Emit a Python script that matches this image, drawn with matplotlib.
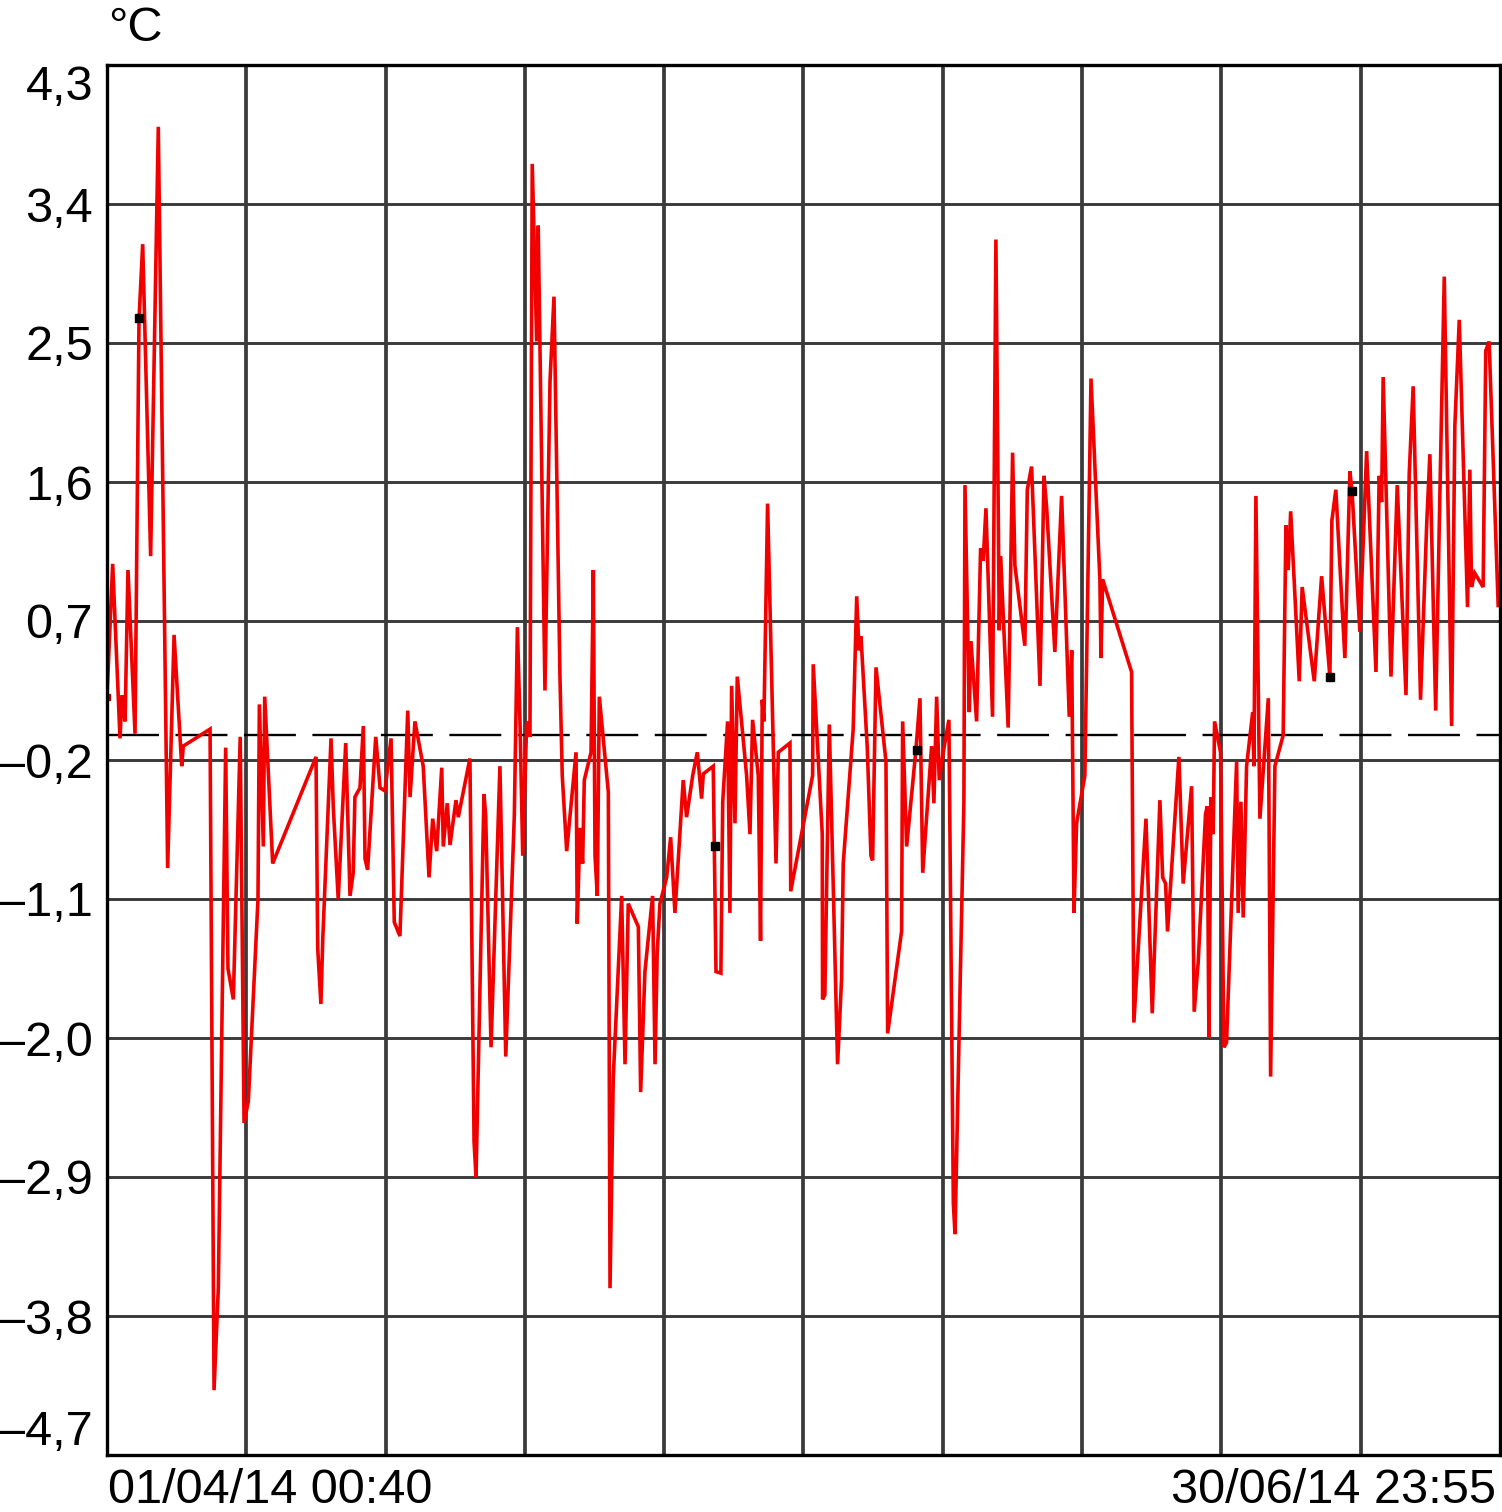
import matplotlib
matplotlib.use("Agg")
import matplotlib.pyplot as plt

# time in days since 01/04/14 00:40, temperature in °C
days = [0.00, 0.37, 0.85, 0.98, 1.18, 1.37, 1.83, 2.09, 2.33, 2.85, 3.35, 3.96, 4.38, 4.88, 4.98,
        6.73, 6.99, 7.27, 7.75, 7.90, 8.25, 8.70, 8.95, 9.23, 9.86, 9.95, 10.21, 10.30, 10.82,
        13.65, 13.76, 13.97, 14.09, 14.63, 14.78, 15.10, 15.59, 15.87, 16.08, 16.19, 16.52, 16.74,
        16.85, 17.02, 17.55, 17.83, 18.15, 18.55, 18.76, 19.13, 19.64, 19.79, 20.11, 20.65, 21.03,
        21.27, 21.53, 21.86, 21.96, 22.22, 22.40, 22.79, 22.94, 23.70, 23.97, 24.10, 24.62, 24.73,
        25.08, 25.66, 26.04, 26.60, 26.80, 26.97, 27.15, 27.41, 27.62, 27.77, 28.06, 28.16, 28.60,
        28.93, 29.19, 29.58, 29.73, 30.02, 30.63, 30.71, 30.89, 31.06, 31.17, 31.61, 31.76, 31.87,
        32.02, 32.15, 32.74, 32.85, 33.06, 33.61, 33.83, 34.04, 34.70, 34.85, 35.13, 35.63, 35.79,
        35.93, 36.11, 36.55, 36.81, 37.09, 37.63, 37.85, 38.25, 38.55, 38.83, 38.94, 39.59, 39.77,
        40.09, 40.21, 40.53, 40.68, 40.79, 41.01, 41.16, 41.77, 41.99, 42.16, 42.53, 42.68, 42.79,
        42.90, 43.14, 43.69, 43.84, 44.60, 44.65, 46.08, 46.12, 46.71, 46.73, 46.88, 47.17, 47.71,
        47.97, 48.08, 48.73, 48.96, 49.11, 49.24, 49.65, 49.89, 50.00, 50.22, 50.87, 50.98, 51.89,
        51.96, 52.22, 52.83, 53.09, 53.27, 53.85, 54.00, 54.18, 54.35, 54.61, 54.98, 55.27, 55.38,
        55.96, 56.03, 56.31, 56.42, 56.79, 57.05, 57.22, 57.40, 57.83, 58.05, 58.27, 58.36, 58.85,
        59.14, 59.29, 59.94, 60.10, 60.38, 60.93, 61.19, 61.36, 61.90, 62.34, 62.84, 63.00, 63.15,
        63.32, 63.86, 64.26, 64.84, 64.91, 65.02, 66.91, 67.06, 67.85, 68.26, 68.76, 68.94, 69.13,
        69.26, 70.00, 70.28, 70.83, 71.00, 71.26, 71.74, 71.85, 71.96, 72.09, 72.24, 72.33, 72.72,
        72.94, 73.11, 73.77, 73.87, 74.05, 74.20, 74.42, 74.82, 74.90, 75.03, 75.29, 75.84, 75.99,
        76.27, 76.81, 76.99, 77.14, 77.30, 77.86, 78.05, 78.84, 79.32, 79.86, 79.99, 80.25, 80.84,
        81.17, 81.32, 81.82, 82.26, 82.87, 83.08, 83.24, 83.34, 83.85, 84.26, 84.83, 85.04, 85.30,
        85.78, 86.18, 86.39, 86.77, 87.05, 87.33, 87.81, 88.02, 88.31, 88.85, 89.00, 89.11, 89.32,
        89.87, 90.04, 90.26, 90.85]
temps = [0.21, 1.07, -0.06, 0.22, 0.05, 1.03, -0.03, 2.65, 3.14, 1.12, 3.90, -0.90, 0.61, -0.24, -0.11,
         0.00, -4.28, -3.62, -0.12, -1.55, -1.75, -0.05, -2.55, -2.41, -1.10, 0.16, -0.76, 0.21, -0.87,
         -0.18, -1.42, -1.78, -1.36, -0.06, -0.51, -1.10, -0.09, -1.08, -0.93, -0.44, -0.38, 0.02,
         -0.84, -0.91, -0.05, -0.38, -0.40, -0.06, -1.25, -1.34, 0.12, -0.44, 0.05, -0.24, -0.96,
         -0.58, -0.79, -0.25, -0.76, -0.48, -0.75, -0.46, -0.57, -0.19, -2.67, -2.90, -0.42, -0.56,
         -2.06, -0.24, -2.12, -0.56, 0.66, 0.05, -0.82, 0.05, -0.05, 3.66, 2.51, 3.26, 0.25,
         2.25, 2.80, 0.34, -0.30, -0.79, -0.15, -1.26, -0.64, -0.87, -0.33, -0.15, 1.03, -0.82,
         -1.08, 0.21, -0.41, -3.62, -2.26, -1.08, -2.17, -1.13, -1.28, -2.35, -1.57, -1.08, -2.17,
         -1.45, -1.13, -0.96, -0.70, -1.19, -0.33, -0.57, -0.30, -0.15, -0.45, -0.29, -0.24, -1.57,
         -1.58, -0.47, 0.05, -1.19, 0.28, -0.61, 0.34, -0.30, -0.68, 0.06, -0.30, -1.37, 0.19,
         0.05, 1.46, -0.87, -0.15, -0.09, -1.05, -0.30, 0.42, -0.68, -1.75, -1.72, 0.03, -2.17,
         -1.62, -0.87, 0.00, 0.86, 0.51, 0.60, -0.12, -0.82, -0.85, 0.40, -0.21, -1.97, -1.31,
         0.05, -0.76, -0.13, 0.20, -0.93, -0.11, -0.48, 0.21, -0.33, -0.15, 0.06, -3.07, -3.27,
         -0.47, 1.58, 0.11, 0.57, 0.05, 1.17, 1.09, 1.43, 0.08, 3.17, 0.64, 1.12, 0.01,
         1.79, 1.06, 0.54, 1.55, 1.70, 0.28, 1.64, 1.44, 0.50, 1.51, 0.08, 0.51, -1.19,
         -0.61, -0.30, 2.27, 0.97, 0.46, 0.97, 0.37, -1.90, -0.58, -1.84, -0.46, -0.96, -1.00,
         -1.31, -0.18, -1.00, -0.37, -1.83, -1.51, -0.55, -0.50, -2.00, -0.44, -0.68, 0.05, -0.15,
         -2.06, -2.03, -0.21, -1.19, -0.47, -1.22, -0.24, 0.11, -0.24, 1.51, -0.58, 0.20, -2.25,
         -0.24, -0.04, 1.32, 1.03, 1.41, 0.31, 0.92, 0.31, 0.99, 0.34, 1.35, 1.55, 0.46,
         1.67, 1.52, 0.63, 1.80, 0.37, 1.64, 1.47, 2.28, 0.34, 1.58, 0.22, 1.65, 2.22,
         0.19, 1.32, 1.78, 0.12, 1.55, 2.93, 0.02, 1.96, 2.65, 0.79, 1.68, 0.92, 1.01,
         0.92, 2.45, 2.51, 0.80]

marker_days = [2.09, 39.70, 52.90, 79.87, 81.30]
marker_temps = [2.66, -0.76, -0.135, 0.34, 1.54]

reference_level = -0.04
total_days = 90.97
y_ticks = [-4.7, -3.8, -2.9, -2.0, -1.1, -0.2, 0.7, 1.6, 2.5, 3.4, 4.3]
y_tick_labels = ["–4,7", "–3,8", "–2,9", "–2,0", "–1,1", "–0,2", "0,7", "1,6", "2,5", "3,4", "4,3"]
start_label = "01/04/14 00:40"
end_label = "30/06/14 23:55"
unit_label = "°C"

FS = 35
plt.rcParams['font.family'] = ['Liberation Sans', 'DejaVu Sans']
W, H = 1502, 1512
fig = plt.figure(figsize=(W / 100, H / 100), dpi=100)
ax = fig.add_axes([107 / W, 1 - 1455 / H, (1500 - 107) / W, (1455 - 65) / H])

ax.set_xlim(0, total_days)
ax.set_ylim(-4.7, 4.3)

xgrid = [total_days * k / 10 for k in range(1, 10)]
for xv in xgrid:
    ax.axvline(xv, color='#3a3a3a', lw=2.7, zorder=1)
for yv in y_ticks[1:-1]:
    ax.axhline(yv, color='#3a3a3a', lw=2.1, zorder=1)

ax.axhline(reference_level, color='black', lw=1.7, dashes=(22, 7), zorder=2)

ax.plot(days, temps, color='#f20000', lw=2.6, zorder=3, solid_joinstyle='miter')
ax.plot(days[:1], temps[:1], 's', color='#b00000', ms=5, zorder=4)
ax.plot(marker_days, marker_temps, 's', color='black', ms=5.5, zorder=5, lw=0)

ax.set_xticks([])
ax.set_yticks(y_ticks)
ax.set_yticklabels(y_tick_labels, fontsize=FS)
ax.tick_params(axis='y', length=0, pad=10)
tl = ax.get_yticklabels()
tl[0].set_verticalalignment('bottom')
tl[-1].set_verticalalignment('top')

for s in ax.spines.values():
    s.set_color('black')
    s.set_linewidth(2.4)
    s.set_zorder(6)

fig.text(108 / W, 1 - 41 / H, unit_label, fontsize=FS, ha='left', va='baseline')
fig.text(108 / W, 1 - 1503 / H, start_label, fontsize=FS, ha='left', va='baseline')
fig.text(1496 / W, 1 - 1503 / H, end_label, fontsize=FS, ha='right', va='baseline')

fig.savefig("out.png", dpi=100)
